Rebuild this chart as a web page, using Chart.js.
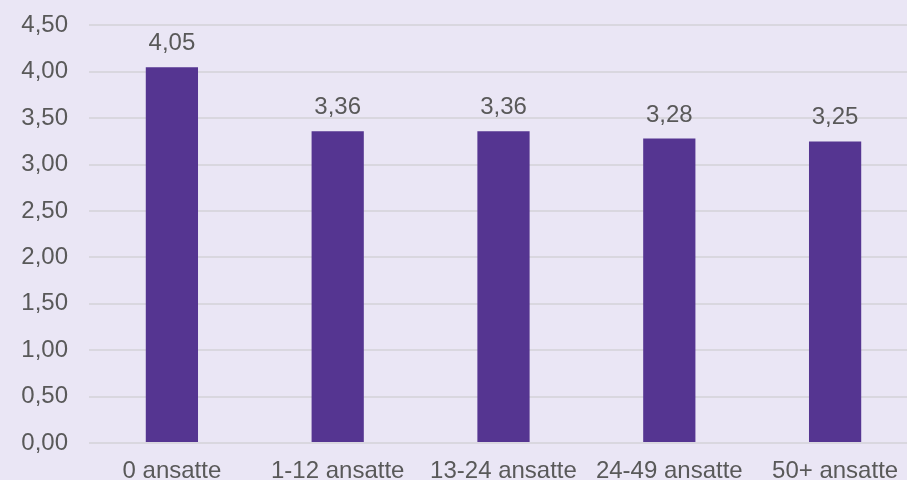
<!DOCTYPE html>
<html>
<head>
<meta charset="utf-8">
<script src="https://cdn.jsdelivr.net/npm/chart.js@4"></script>
<style>
  html, body { margin: 0; padding: 0; overflow: hidden; background: #EAE6F5; }
  #wrap { width: 918px; height: 502px; margin-top: -10px; }
</style>
</head>
<body>
<div id="wrap"><canvas id="bar_chart"></canvas></div>
<script>
const categories = ['0 ansatte', '1-12 ansatte', '13-24 ansatte', '24-49 ansatte', '50+ ansatte'];
const values = [4.05, 3.36, 3.36, 3.28, 3.25];
const yMin = 0;
const yMax = 4.5;
const yStep = 0.5;

const fmt = (v) => Number(v).toFixed(2).replace('.', ',');

// ラベルを棒の上に描く
const valueLabels = {
  id: 'valueLabels',
  afterDatasetsDraw(chart) {
    const ctx = chart.ctx;
    const meta = chart.getDatasetMeta(0);
    ctx.save();
    ctx.font = '24px "Liberation Sans", Arial, sans-serif';
    ctx.fillStyle = '#595959';
    ctx.textAlign = 'center';
    ctx.textBaseline = 'alphabetic';
    meta.data.forEach((bar, i) => {
      ctx.fillText(fmt(values[i]), bar.x, bar.y - 17);
    });
    ctx.restore();
  }
};

const bar = document.getElementById('bar_chart');
new Chart(bar, {
  type: 'bar',
  data: {
    labels: categories,
    datasets: [{
      data: values,
      backgroundColor: '#553591',
      barPercentage: 0.315,
      categoryPercentage: 1
    }]
  },
  plugins: [valueLabels],
  options: {
    responsive: true,
    maintainAspectRatio: false,
    animation: false,
    layout: { padding: { top: 16, left: 0, right: 0, bottom: 1 } },
    plugins: {
      legend: { display: false },
      tooltip: { enabled: false }
    },
    scales: {
      x: {
        grid: { display: false },
        border: { display: false },
        ticks: {
          color: '#595959',
          padding: 8,
          font: { family: '"Liberation Sans", Arial, sans-serif', size: 24, lineHeight: 1 }
        }
      },
      y: {
        min: yMin,
        max: yMax,
        afterFit: (scale) => { scale.width = 89; },
        grid: { color: '#D9D7DF', lineWidth: 2, drawTicks: false },
        border: { display: false },
        ticks: {
          stepSize: yStep,
          color: '#595959',
          padding: 21,
          font: { family: '"Liberation Sans", Arial, sans-serif', size: 24 },
          callback: (value) => fmt(value)
        }
      }
    }
  }
});
</script>
</body>
</html>
